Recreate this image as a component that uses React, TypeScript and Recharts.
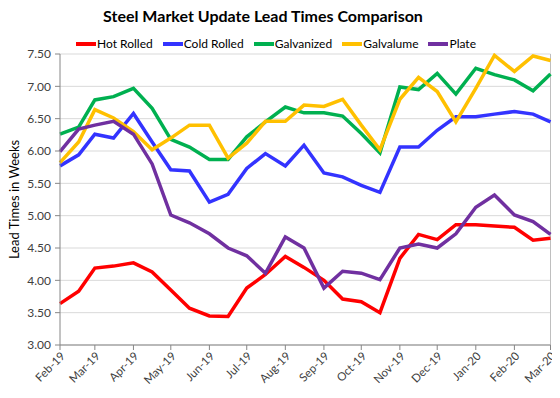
import React from "react";
import {
  LineChart,
  Line,
  XAxis,
  YAxis,
  CartesianGrid,
  ReferenceLine,
} from "recharts";

// survey dates (1st and mid-month)
const dates = [
  "2019-02-01", "2019-02-16", "2019-03-01", "2019-03-16", "2019-04-01",
  "2019-04-16", "2019-05-01", "2019-05-16", "2019-06-01", "2019-06-16",
  "2019-07-01", "2019-07-16", "2019-08-01", "2019-08-16", "2019-09-01",
  "2019-09-16", "2019-10-01", "2019-10-16", "2019-11-01", "2019-11-16",
  "2019-12-01", "2019-12-16", "2020-01-01", "2020-01-16", "2020-02-01",
  "2020-02-16", "2020-03-01",
];

const hotRolled = [3.64, 3.83, 4.19, 4.22, 4.27, 4.13, 3.85, 3.57, 3.45, 3.44, 3.88, 4.09, 4.37, 4.2, 4.0, 3.71, 3.67, 3.5, 4.34, 4.71, 4.63, 4.86, 4.86, 4.84, 4.82, 4.62, 4.65];
const coldRolled = [5.77, 5.94, 6.26, 6.2, 6.58, 6.14, 5.71, 5.69, 5.21, 5.33, 5.73, 5.96, 5.77, 6.09, 5.66, 5.6, 5.47, 5.36, 6.06, 6.06, 6.32, 6.53, 6.53, 6.57, 6.61, 6.57, 6.45];
const galvanized = [6.26, 6.37, 6.79, 6.84, 6.97, 6.66, 6.18, 6.06, 5.87, 5.87, 6.22, 6.45, 6.68, 6.59, 6.59, 6.54, 6.27, 5.97, 6.99, 6.95, 7.2, 6.88, 7.28, 7.18, 7.1, 6.93, 7.19];
const galvalume = [5.82, 6.14, 6.64, 6.51, 6.3, 6.02, 6.2, 6.4, 6.4, 5.89, 6.12, 6.46, 6.46, 6.71, 6.69, 6.8, 6.4, 6.02, 6.8, 7.14, 6.92, 6.45, 6.97, 7.48, 7.23, 7.47, 7.4];
const plate = [5.99, 6.34, 6.4, 6.46, 6.26, 5.8, 5.01, 4.89, 4.72, 4.5, 4.38, 4.11, 4.67, 4.5, 3.88, 4.14, 4.11, 4.01, 4.5, 4.56, 4.5, 4.72, 5.13, 5.32, 5.01, 4.91, 4.71];

const monthTicks = [
  "2019-02-01", "2019-03-01", "2019-04-01", "2019-05-01", "2019-06-01",
  "2019-07-01", "2019-08-01", "2019-09-01", "2019-10-01", "2019-11-01",
  "2019-12-01", "2020-01-01", "2020-02-01", "2020-03-01",
];
const monthLabels = [
  "Feb-19", "Mar-19", "Apr-19", "May-19", "Jun-19", "Jul-19", "Aug-19",
  "Sep-19", "Oct-19", "Nov-19", "Dec-19", "Jan-20", "Feb-20", "Mar-20",
];
const yTicks = [3, 3.5, 4, 4.5, 5, 5.5, 6, 6.5, 7, 7.5];

const series = [
  { key: "hot", name: "Hot Rolled", color: "#ff0000", values: hotRolled },
  { key: "cold", name: "Cold Rolled", color: "#3333ff", values: coldRolled },
  { key: "galv", name: "Galvanized", color: "#00b050", values: galvanized },
  { key: "galvalume", name: "Galvalume", color: "#ffc000", values: galvalume },
  { key: "plate", name: "Plate", color: "#7030a0", values: plate },
];

const toDay = (s: string) => {
  const [y, m, d] = s.split("-").map(Number);
  return Date.UTC(y, m - 1, d) / 86400000;
};

const data = dates.map((d, i) => {
  const row: any = { t: toDay(d) };
  series.forEach((s) => (row[s.key] = s.values[i]));
  return row;
});

const tickDays = monthTicks.map(toDay);
const FONT = "Lato, 'Open Sans', sans-serif";

function MonthTick({ x, y, payload }: any) {
  const idx = tickDays.indexOf(payload.value);
  return (
    <g transform={`translate(${x + 3},${y + 2})`}>
      <text
        x={0}
        y={0}
        dy="0.35em"
        textAnchor="end"
        transform="rotate(-45)"
        fill="#404040"
        fontSize={11.5}
        fontFamily={FONT}
      >
        {monthLabels[idx]}
      </text>
    </g>
  );
}

export default function App() {
  return (
    <div
      style={{
        position: "relative",
        width: 560,
        height: 398,
        margin: "-8px 0 0 -8px",
        background: "#fff",
        fontFamily: FONT,
      }}
    >
      <div
        style={{
          position: "absolute",
          top: 6,
          left: 0,
          width: 526,
          textAlign: "center",
          fontWeight: 700,
          fontSize: 16,
          color: "#000",
          lineHeight: "20px",
        }}
      >
        Steel Market Update Lead Times Comparison
      </div>
      <div
        style={{
          position: "absolute",
          top: 35,
          left: 76,
          display: "flex",
          gap: 10,
          fontSize: 12,
          color: "#000",
          lineHeight: "18px",
        }}
      >
        {series.map((s) => (
          <div key={s.key} style={{ display: "flex", alignItems: "center" }}>
            <span style={{ display: "inline-block", width: 20, height: 4, background: s.color, marginRight: 1 }} />
            <span>{s.name}</span>
          </div>
        ))}
      </div>
      <LineChart
        width={560}
        height={398}
        data={data}
        margin={{ top: 54, right: 9.5, bottom: 0, left: 0 }}
      >
        <CartesianGrid vertical={false} stroke="#d9d9d9" />
        <XAxis
          dataKey="t"
          type="number"
          domain={[tickDays[0], tickDays[tickDays.length - 1]]}
          ticks={tickDays}
          interval={0}
          height={53}
          stroke="#868686"
          tickSize={5}
          tick={<MonthTick />}
        />
        <YAxis
          domain={[3, 7.5]}
          ticks={yTicks}
          interval={0}
          width={60}
          stroke="#868686"
          tickSize={5}
          tickMargin={4}
          tickFormatter={(v: number) => v.toFixed(2)}
          tick={{ fill: "#404040", fontSize: 12, fontFamily: FONT }}
          label={{
            value: "Lead Times in Weeks",
            angle: -90,
            position: "insideLeft",
            offset: 14,
            style: { textAnchor: "middle", fill: "#000", fontSize: 13, fontFamily: FONT },
          }}
        />
        <ReferenceLine x={tickDays[tickDays.length - 1]} stroke="#bfbfbf" />
        {series.map((s) => (
          <Line
            key={s.key}
            type="linear"
            dataKey={s.key}
            name={s.name}
            stroke={s.color}
            strokeWidth={3.5}
            dot={false}
            isAnimationActive={false}
          />
        ))}
      </LineChart>
    </div>
  );
}
